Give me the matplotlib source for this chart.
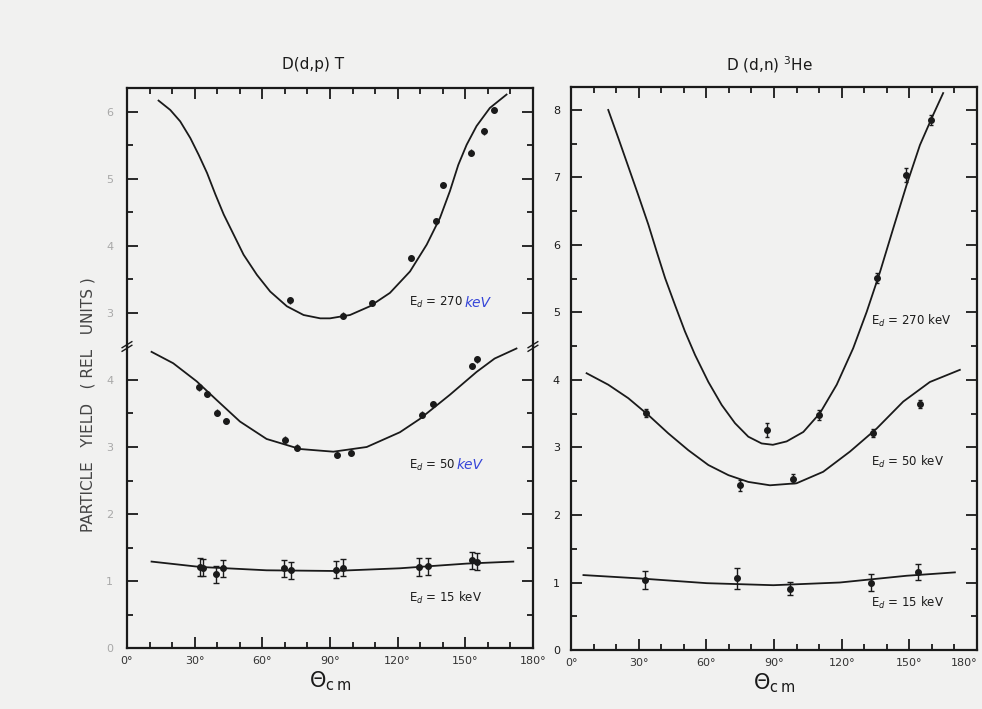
import numpy as np
import matplotlib.pyplot as plt
from matplotlib.ticker import MultipleLocator, FixedLocator

# ---- D(d,p)T : fitted curves ----
dp270_th = [14.0, 19.2, 23.6, 28.1, 31.8, 35.5, 39.2, 42.9, 47.3, 51.7, 57.6, 63.5,
            70.9, 78.3, 85.7, 90.0, 98.9, 107.7, 116.6, 125.5, 132.9, 138.8, 143.2,
            146.9, 150.6, 155.0, 160.9, 168.3]
dp270_fit = [6.17, 6.03, 5.86, 5.61, 5.36, 5.09, 4.77, 4.47, 4.17, 3.87, 3.57, 3.32,
             3.10, 2.97, 2.92, 2.92, 2.97, 3.10, 3.30, 3.62, 4.02, 4.42, 4.82,
             5.21, 5.51, 5.79, 6.06, 6.26]
dp50_th = [10.9, 20.5, 30.9, 39.8, 50.1, 61.9, 76.7, 91.5, 106.3, 121, 129.9, 143.2,
           155, 163, 172.7]
dp50_fit = [4.42, 4.25, 3.98, 3.70, 3.38, 3.12, 2.97, 2.93, 3.00, 3.22, 3.42, 3.78,
            4.12, 4.32, 4.47]
dp15_th = [10.9, 32.4, 61.9, 91.5, 121, 150.6, 171.3]
dp15_fit = [1.29, 1.21, 1.16, 1.15, 1.19, 1.26, 1.29]

# ---- D(d,p)T : measured yields ----
dp270_x = [72.4, 95.9, 108.5, 125.9, 137.0, 140.2, 152.4, 158.3, 162.7]
dp270_y = [3.19, 2.96, 3.15, 3.82, 4.37, 4.91, 5.39, 5.71, 6.03]
dp50_x = [32.1, 35.3, 40.0, 43.7, 70.0, 75.5, 93.2, 99.2, 130.6, 135.5, 153.2, 155.0]
dp50_y = [3.89, 3.79, 3.51, 3.39, 3.11, 2.99, 2.88, 2.91, 3.48, 3.64, 4.21, 4.31]
dp15_x = [32.4, 33.7, 39.5, 42.4, 69.6, 72.7, 92.5, 95.9, 129.6, 133.6, 152.8, 155.0]
dp15_y = [1.21, 1.20, 1.10, 1.19, 1.19, 1.16, 1.17, 1.20, 1.21, 1.22, 1.31, 1.29]

# ---- D(d,n)3He : fitted curves ----
dn270_th = [16.5, 21.0, 25.4, 29.8, 34.3, 38.0, 41.7, 46.1, 50.5, 55.0, 60.9, 66.8,
            72.7, 78.6, 84.5, 89.5, 95.6, 103.0, 110.4, 117.8, 125.1, 131.1, 137.0,
            142.9, 148.8, 154.7, 160.6, 165.0]
dn270_fit = [8.00, 7.58, 7.16, 6.74, 6.30, 5.90, 5.51, 5.11, 4.72, 4.37, 3.97, 3.63,
             3.36, 3.16, 3.06, 3.04, 3.09, 3.23, 3.51, 3.93, 4.47, 5.01, 5.60,
             6.25, 6.89, 7.48, 7.93, 8.25]
dn50_th = [6.9, 16.5, 25.4, 34.3, 43.1, 52.0, 60.9, 69.8, 78.6, 88.2, 100.0, 111.8,
           123.7, 135.5, 147.3, 159.1, 172.4]
dn50_fit = [4.10, 3.93, 3.73, 3.48, 3.21, 2.96, 2.74, 2.59, 2.49, 2.44, 2.47, 2.64,
            2.94, 3.28, 3.68, 3.97, 4.15]
dn15_th = [5.5, 30.6, 60.2, 89.7, 119.2, 148.8, 170.2]
dn15_fit = [1.11, 1.06, 0.99, 0.96, 1.00, 1.10, 1.15]

# ---- D(d,n)3He : measured yields ----
dn270_x = [87.0, 110.1, 135.8, 148.5, 159.4]
dn270_y = [3.26, 3.48, 5.51, 7.04, 7.85]
dn270_err = [0.10, 0.08, 0.08, 0.10, 0.08]
dn50_x = [33.1, 74.9, 98.2, 133.7, 154.7]
dn50_y = [3.51, 2.44, 2.54, 3.21, 3.65]
dn50_err = [0.06, 0.08, 0.06, 0.06, 0.06]
dn15_x = [32.8, 73.5, 97.1, 133.0, 153.7]
dn15_y = [1.04, 1.06, 0.91, 1.00, 1.15]
dn15_err = [0.13, 0.16, 0.10, 0.13, 0.12]

x_ticks = [0, 30, 60, 90, 120, 150, 180]
x_labels = ['0°', '30°', '60°', '90°', '120°', '150°', '180°']

paper = '#f1f1f0'
ink = '#1a1a1a'
pen_blue = '#3646d8'

plt.rcParams['font.family'] = ['DejaVu Sans']
fig = plt.figure(figsize=(9.82, 7.09), dpi=100, facecolor=paper)


def style_axis(ax, top=True, bottom=True):
    ax.set_facecolor('none')
    ax.set_xlim(0, 180)
    ax.xaxis.set_major_locator(FixedLocator(x_ticks))
    ax.xaxis.set_minor_locator(MultipleLocator(10))
    ax.tick_params(which='both', direction='in', top=top, bottom=bottom,
                   left=True, right=True, color=ink, width=1.3)
    ax.tick_params(which='major', length=8)
    ax.tick_params(which='minor', length=4)
    for s in ax.spines.values():
        s.set_linewidth(1.6)
        s.set_color(ink)


def fit_line(ax, th, val):
    ax.plot(th, val, color=ink, lw=1.3, clip_on=False, solid_joinstyle='round')


def points(ax, x, y, err, cap=0):
    ax.errorbar(x, y, yerr=err, fmt='o', ms=4, color=ink, ecolor=ink,
                elinewidth=1.0, capsize=cap, clip_on=False)


# left panel: broken y axis, 270 keV shown in the upper part
brk = 0.5113
ax_lo = fig.add_axes([0.1293, 0.0860, 0.4134, brk - 0.0860])
ax_hi = fig.add_axes([0.1293, brk, 0.4134, 0.8759 - brk])

style_axis(ax_lo, top=False, bottom=True)
style_axis(ax_hi, top=True, bottom=False)
ax_lo.spines['top'].set_visible(False)
ax_hi.spines['bottom'].set_visible(False)

ax_lo.set_ylim(0, 4.5)
ax_lo.yaxis.set_major_locator(FixedLocator([0, 1, 2, 3, 4]))
ax_lo.yaxis.set_minor_locator(FixedLocator([0.5, 1.5, 2.5, 3.5]))
ax_hi.set_ylim(2.5, 6.358)
ax_hi.yaxis.set_major_locator(FixedLocator([3, 4, 5, 6]))
ax_hi.yaxis.set_minor_locator(FixedLocator([3.5, 4.5, 5.5]))

ax_lo.set_xticks(x_ticks)
ax_lo.set_xticklabels(x_labels, fontsize=8, color='#333333')
ax_hi.set_xticklabels([])
for a in (ax_lo, ax_hi):
    a.tick_params(axis='y', labelsize=8, labelcolor='#a8a8a8', pad=10)
ax_lo.tick_params(axis='x', pad=6)

fit_line(ax_hi, dp270_th, dp270_fit)
points(ax_hi, dp270_x, dp270_y, 0.05)
fit_line(ax_lo, dp50_th, dp50_fit)
points(ax_lo, dp50_x, dp50_y, 0.05)
fit_line(ax_lo, dp15_th, dp15_fit)
points(ax_lo, dp15_x, dp15_y, 0.13, cap=2)

# break marks on both spines
for xb in (0, 1):
    for dy in (-0.006, 0.006):
        ax_lo.plot([xb - 0.012, xb + 0.012], [1 + dy - 0.01, 1 + dy + 0.01],
                   transform=ax_lo.transAxes, color=ink, lw=1.0, clip_on=False)

ax_lo.set_xlabel(r'$\Theta_{\rm c\,m}$', fontsize=15, color=ink, labelpad=2)


def energy_label(ax, x, y, num, blue_unit):
    if blue_unit:
        t = ax.text(x, y, r'E$_d$ = ' + num, fontsize=8.5, color=ink,
                    va='center', ha='left')
        ax.annotate('keV', xy=(1, 0.5), xycoords=t, xytext=(1, 0),
                    textcoords='offset points', va='center', ha='left',
                    fontsize=10, color=pen_blue, fontstyle='italic')
    else:
        ax.text(x, y, r'E$_d$ = ' + num + ' keV', fontsize=8.5, color=ink,
                va='center', ha='left')


energy_label(ax_hi, 125, 3.15, '270', True)
energy_label(ax_lo, 125, 2.73, '50', True)
energy_label(ax_lo, 125, 0.75, '15', False)

# right panel
ax_r = fig.add_axes([0.5815, 0.0832, 0.4134, 0.7941])
style_axis(ax_r)
ax_r.set_ylim(0, 8.34)
ax_r.yaxis.set_major_locator(MultipleLocator(1))
ax_r.yaxis.set_minor_locator(MultipleLocator(0.5))
ax_r.set_xticks(x_ticks)
ax_r.set_xticklabels(x_labels, fontsize=8, color='#333333')
ax_r.get_xticklabels()[-1].set_horizontalalignment('right')
ax_r.tick_params(axis='y', labelsize=8, labelcolor=ink, pad=8)
ax_r.tick_params(axis='x', pad=6)

fit_line(ax_r, dn270_th, dn270_fit)
points(ax_r, dn270_x, dn270_y, dn270_err, cap=1.5)
fit_line(ax_r, dn50_th, dn50_fit)
points(ax_r, dn50_x, dn50_y, dn50_err, cap=1.5)
fit_line(ax_r, dn15_th, dn15_fit)
points(ax_r, dn15_x, dn15_y, dn15_err, cap=2)

energy_label(ax_r, 133, 4.88, '270', False)
energy_label(ax_r, 133, 2.78, '50', False)
energy_label(ax_r, 133, 0.70, '15', False)

ax_r.set_xlabel(r'$\Theta_{\rm c\,m}$', fontsize=15, color=ink, labelpad=2)

fig.text(313 / 982, 1 - 65 / 709, 'D(d,p) T', fontsize=11, color=ink,
         ha='center', va='center')
fig.text(770 / 982, 1 - 65 / 709, r'D (d,n) $^3$He', fontsize=11, color=ink,
         ha='center', va='center')
fig.text(88 / 982, 1 - 405 / 709, 'PARTICLE   YIELD   ( REL   UNITS )',
         fontsize=11, color='#444444', rotation=90, ha='center', va='center')

fig.savefig('out.png', dpi=100, facecolor=paper)
